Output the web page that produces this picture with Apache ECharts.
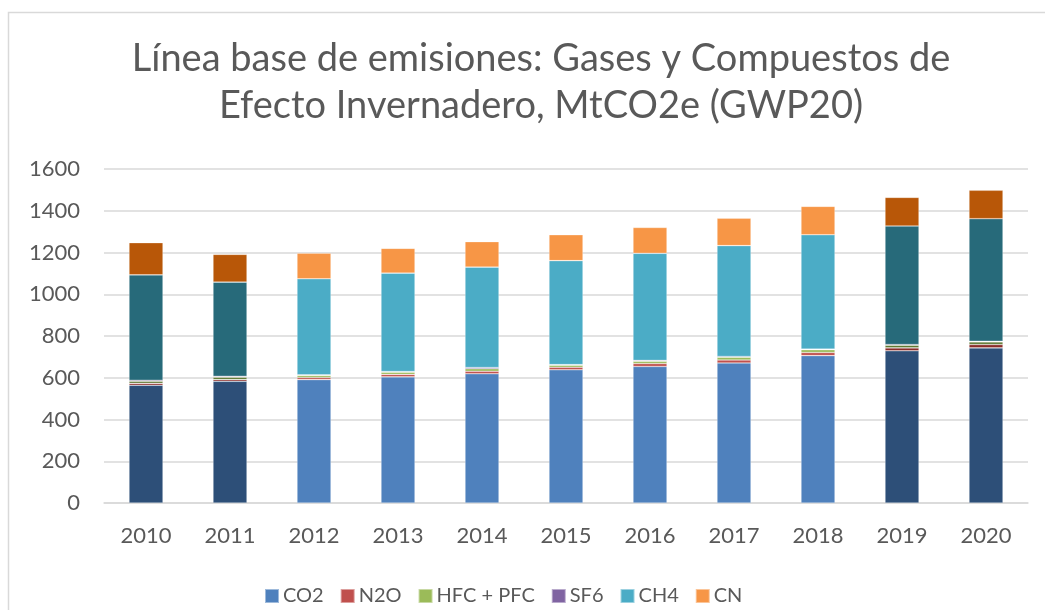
<!DOCTYPE html>
<html>
<head>
<meta charset="utf-8">
<script src="https://cdn.jsdelivr.net/npm/echarts@6/dist/echarts.min.js"></script>
<style>
  html, body { margin: 0; padding: 0; background: #fff; }
  #chart { width: 1045px; height: 610px; }
</style>
</head>
<body>
<div id="chart"></div>
<script>
// values (MtCO2e)
const years = ['2010', '2011', '2012', '2013', '2014', '2015', '2016', '2017', '2018', '2019', '2020'];
const co2 = [564, 583, 591, 604, 619, 638, 654, 671, 706, 729, 743];
const n2o = [9, 8, 10, 12, 12, 12, 14, 14, 15, 14, 16];
const hfcPfc = [10, 12, 10, 11, 12, 10, 11, 13, 13, 13, 13];
const sf6 = [5, 4, 3, 3, 6, 3, 4, 4, 3, 3, 3];
const ch4 = [505, 451, 460, 471, 481, 498, 513, 531, 548, 568, 587];
const cn = [154, 133, 123, 119, 122, 124, 124, 131, 136, 137, 136];
const yTicks = [0, 200, 400, 600, 800, 1000, 1200, 1400, 1600];

// years drawn with the darker shade
const darkYears = ['2010', '2011', '2019', '2020'];

const seriesDefs = [
  { name: 'CO2', data: co2, color: '#4F81BD', dark: '#2D4F78' },
  { name: 'N2O', data: n2o, color: '#C0504D', dark: '#8B2C29' },
  { name: 'HFC + PFC', data: hfcPfc, color: '#9BBB59', dark: '#5F7832' },
  { name: 'SF6', data: sf6, color: '#8064A2', dark: '#5A4579' },
  { name: 'CH4', data: ch4, color: '#4BACC6', dark: '#276A7A' },
  { name: 'CN', data: cn, color: '#F79646', dark: '#B85708' },
];

const font = 'Lato, "Open Sans", sans-serif';
const textColor = '#595959';

const chart = echarts.init(document.getElementById('chart'));
chart.setOption({
  animation: false,
  color: seriesDefs.map((s) => s.color),
  title: {
    text: 'Línea base de emisiones: Gases y Compuestos de\nEfecto Invernadero, MtCO2e (GWP20)',
    left: 536,
    textAlign: 'center',
    top: 30,
    textStyle: {
      fontFamily: font,
      fontSize: 38,
      fontWeight: 'normal',
      color: textColor,
      lineHeight: 47,
    },
  },
  graphic: [
    {
      type: 'rect',
      shape: { x: 8.5, y: 12.5, width: 1100, height: 700 },
      style: { fill: 'none', stroke: '#D9D9D9', lineWidth: 1.5 },
      silent: true,
    },
  ],
  legend: {
    bottom: -1,
    left: 259,
    itemWidth: 14,
    itemHeight: 14,
    itemGap: 16,
    icon: 'rect',
    textStyle: { fontFamily: font, fontSize: 20, color: textColor, padding: [0, 0, 0, -1] },
    data: seriesDefs.map((s) => s.name),
  },
  grid: { left: 104, right: 17, top: 169, bottom: 107 },
  xAxis: {
    type: 'category',
    data: years,
    axisLine: { lineStyle: { color: '#D9D9D9', width: 1.5 } },
    axisTick: { show: false },
    axisLabel: { fontFamily: font, fontSize: 22, color: textColor, margin: 22 },
  },
  yAxis: {
    type: 'value',
    min: yTicks[0],
    max: yTicks[yTicks.length - 1],
    interval: yTicks[1] - yTicks[0],
    axisLine: { show: false },
    axisTick: { show: false },
    splitLine: { lineStyle: { color: '#D9D9D9', width: 1.5 } },
    axisLabel: {
      fontFamily: font,
      fontSize: 22,
      color: textColor,
      margin: 24,
      formatter: (v) => String(v),
    },
  },
  series: seriesDefs.map((s) => ({
    name: s.name,
    type: 'bar',
    stack: 'total',
    barWidth: 34,
    itemStyle: { color: s.color, borderColor: 'rgba(255,255,255,0.45)', borderWidth: 0.6 },
    data: s.data.map((v, i) => ({
      value: v,
      itemStyle: darkYears.includes(years[i]) ? { color: s.dark } : undefined,
    })),
  })),
});
</script>
</body>
</html>
